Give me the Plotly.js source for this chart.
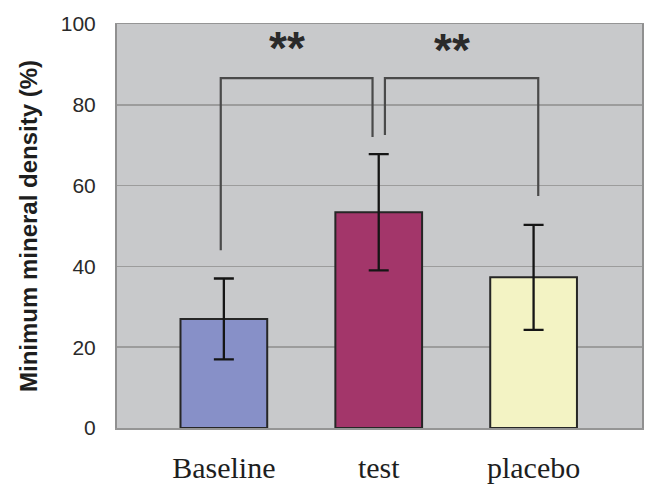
<!DOCTYPE html>
<html>
<head>
<meta charset="utf-8">
<script src="https://cdn.plot.ly/plotly-3.0.1.min.js"></script>
<style>html,body{margin:0;padding:0;background:#fff;}#chart{width:646px;height:489px;}</style>
</head>
<body>
<div id="chart"></div>
<script>
// Data
var categories = ["Baseline", "test", "placebo"];
var meanValues = [27.0, 53.4, 37.3];
var errorValues = [10.0, 14.4, 13.0];
var barColors = ["#8790C8", "#A3366A", "#F3F3C4"];
var yTickValues = [0, 20, 40, 60, 80, 100];

// Significance brackets (category index position, value)
var bracketLeftX = [-0.02, -0.02, 0.96, 0.96];
var bracketLeftY = [44, 86.6, 86.6, 72];
var bracketRightX = [1.04, 1.04, 2.03, 2.03];
var bracketRightY = [72.5, 86.6, 86.6, 57.4];
var sigLabels = ["**", "**"];
var sigX = [0.41, 1.47];
var sigY = [94.0, 93.5];

var xIdx = categories.map(function(c, i){ return i; });

var traces = [
  {
    type: "bar",
    x: xIdx,
    y: meanValues,
    width: 0.56,
    marker: {color: barColors, line: {color: "#262626", width: 2}},
    error_y: {type: "data", array: errorValues, visible: true, color: "#151515", thickness: 2.3, width: 10},
    hoverinfo: "skip"
  },
  {
    type: "scatter", mode: "lines",
    x: bracketLeftX, y: bracketLeftY,
    line: {color: "#4a4a4a", width: 2.2}, hoverinfo: "skip"
  },
  {
    type: "scatter", mode: "lines",
    x: bracketRightX, y: bracketRightY,
    line: {color: "#4a4a4a", width: 2.2}, hoverinfo: "skip"
  }
];

var annotations = sigLabels.map(function(t, i){
  return {x: sigX[i], y: sigY[i], xref: "x", yref: "y", text: t, showarrow: false,
    font: {family: "Liberation Sans, Arial, sans-serif", size: 46, color: "#2a2a2a", weight: "bold"}};
});

var layout = {
  width: 646, height: 489,
  margin: {l: 117, r: 4, t: 24, b: 61},
  paper_bgcolor: "#ffffff",
  plot_bgcolor: "#C8C9CB",
  showlegend: false,
  xaxis: {
    range: [-0.69, 2.70],
    tickvals: xIdx,
    ticktext: categories,
    ticks: "outside", ticklen: 12, tickcolor: "rgba(0,0,0,0)",
    tickfont: {family: "Liberation Serif, Times New Roman, serif", size: 30, color: "#1e1e1e"},
    showgrid: false, zeroline: false,
    showline: true, mirror: true, linecolor: "#959595", linewidth: 1.5
  },
  yaxis: {
    range: [0, 100],
    tickvals: yTickValues,
    ticks: "outside", ticklen: 15, tickcolor: "rgba(0,0,0,0)",
    tickfont: {family: "Liberation Sans, Arial, sans-serif", size: 21, color: "#2a2a2a"},
    showgrid: true, gridcolor: "#9c9c9c", gridwidth: 1.5,
    zeroline: false,
    showline: true, mirror: true, linecolor: "#909090", linewidth: 2,
    title: {text: "Minimum mineral density (%)", standoff: 16,
      font: {family: "Liberation Sans, Arial, sans-serif", size: 24, color: "#1e1e1e", weight: "bold"}}
  },
  annotations: annotations
};

Plotly.newPlot("chart", traces, layout, {staticPlot: true, displayModeBar: false});
</script>
</body>
</html>
